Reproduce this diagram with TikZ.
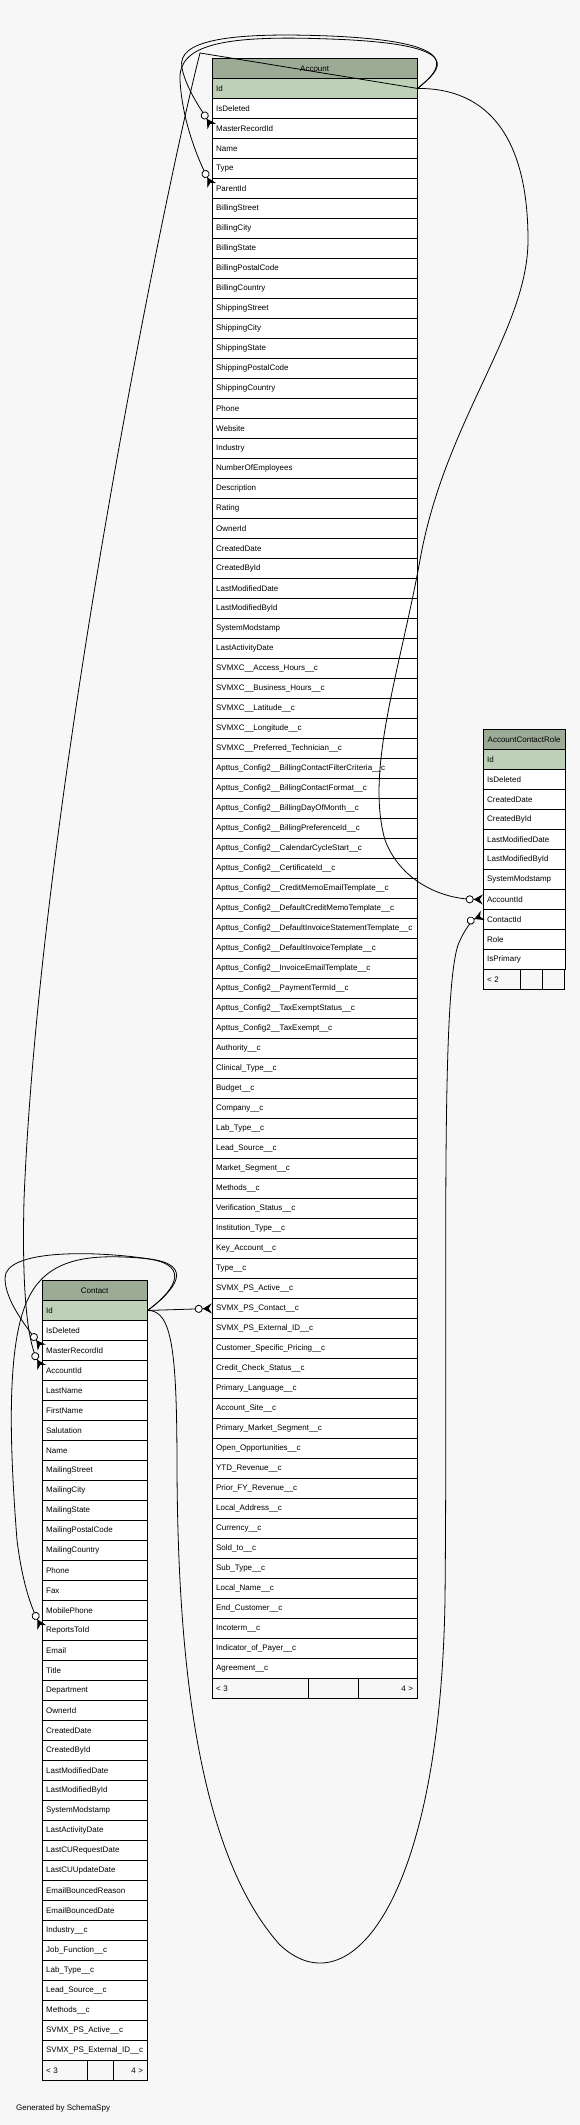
\documentclass[tikz,border=0pt]{standalone}
\usepackage{fontspec}
\setmainfont{Liberation Sans}
\usetikzlibrary{arrows.meta}
\definecolor{bgcol}{HTML}{F7F7F7}
\definecolor{headcol}{HTML}{9BAB96}
\definecolor{pkcol}{HTML}{BED1B8}
\tikzset{
  tblhead/.style={draw, fill=headcol, line width=0.9pt, minimum height=20pt, inner sep=0pt, anchor=north west, font=\fontsize{8}{9}\selectfont},
  colrow/.style={draw, fill=white, line width=0.9pt, minimum height=20pt, inner xsep=4pt, inner ysep=0pt, anchor=north west, align=left, font=\fontsize{8}{9}\selectfont},
  pkrow/.style={colrow, fill=pkcol},
  footcell/.style={draw, fill=bgcol, line width=0.9pt, minimum height=20pt, inner xsep=4pt, inner ysep=0pt, anchor=north west, font=\fontsize{8}{9}\selectfont},
  fk/.style={line width=0.8pt, -{Circle[open,fill=white,length=8pt,width=8pt] Stealth[reversed,length=9pt,width=10pt,inset=3pt]}}
}
\begin{document}
\begin{tikzpicture}[x=1pt,y=-1pt]
\fill[bgcol] (0,0) rectangle (580,2125);
\useasboundingbox (0,0) rectangle (580,2125);
% Account
\node[tblhead, minimum width=205pt] (acc) at (211.7,58) {Account};
\node[pkrow, text width=197pt] (acc-id) at (211.7,78) {Id};
\foreach \c [count=\i] in {IsDeleted, MasterRecordId, Name, Type, ParentId, BillingStreet, BillingCity, BillingState, BillingPostalCode, BillingCountry, ShippingStreet, ShippingCity, ShippingState, ShippingPostalCode, ShippingCountry, Phone, Website, Industry, NumberOfEmployees, Description, Rating, OwnerId, CreatedDate, CreatedById, LastModifiedDate, LastModifiedById, SystemModstamp, LastActivityDate, SVMXC\_\_Access\_Hours\_\_c, SVMXC\_\_Business\_Hours\_\_c, SVMXC\_\_Latitude\_\_c, SVMXC\_\_Longitude\_\_c, SVMXC\_\_Preferred\_Technician\_\_c, Apttus\_Config2\_\_BillingContactFilterCriteria\_\_c, Apttus\_Config2\_\_BillingContactFormat\_\_c, Apttus\_Config2\_\_BillingDayOfMonth\_\_c, Apttus\_Config2\_\_BillingPreferenceId\_\_c, Apttus\_Config2\_\_CalendarCycleStart\_\_c, Apttus\_Config2\_\_CertificateId\_\_c, Apttus\_Config2\_\_CreditMemoEmailTemplate\_\_c, Apttus\_Config2\_\_DefaultCreditMemoTemplate\_\_c, Apttus\_Config2\_\_DefaultInvoiceStatementTemplate\_\_c, Apttus\_Config2\_\_DefaultInvoiceTemplate\_\_c, Apttus\_Config2\_\_InvoiceEmailTemplate\_\_c, Apttus\_Config2\_\_PaymentTermId\_\_c, Apttus\_Config2\_\_TaxExemptStatus\_\_c, Apttus\_Config2\_\_TaxExempt\_\_c, Authority\_\_c, Clinical\_Type\_\_c, Budget\_\_c, Company\_\_c, Lab\_Type\_\_c, Lead\_Source\_\_c, Market\_Segment\_\_c, Methods\_\_c, Verification\_Status\_\_c, Institution\_Type\_\_c, Key\_Account\_\_c, Type\_\_c, SVMX\_PS\_Active\_\_c, SVMX\_PS\_Contact\_\_c, SVMX\_PS\_External\_ID\_\_c, Customer\_Specific\_Pricing\_\_c, Credit\_Check\_Status\_\_c, Primary\_Language\_\_c, Account\_Site\_\_c, Primary\_Market\_Segment\_\_c, Open\_Opportunities\_\_c, YTD\_Revenue\_\_c, Prior\_FY\_Revenue\_\_c, Local\_Address\_\_c, Currency\_\_c, Sold\_to\_\_c, Sub\_Type\_\_c, Local\_Name\_\_c, End\_Customer\_\_c, Incoterm\_\_c, Indicator\_of\_Payer\_\_c, Agreement\_\_c}
  \node[colrow, text width=197pt] (acc-\i) at (211.7,{78+20*\i}) {\c};
\node[footcell, text width=88pt] (acc-f1) at (211.7,1678) {< 3};
\node[footcell, minimum width=50.6pt] (acc-f2) at (307.7,1678) {};
\node[footcell, text width=50.4pt, align=right] (acc-f3) at (358.3,1678) {4 >};
% AccountContactRole
\node[tblhead, minimum width=82pt] (acr) at (482.7,729) {AccountContactRole};
\node[pkrow, text width=74pt] (acr-id) at (482.7,749) {Id};
\foreach \c [count=\i] in {IsDeleted, CreatedDate, CreatedById, LastModifiedDate, LastModifiedById, SystemModstamp, AccountId, ContactId, Role, IsPrimary}
  \node[colrow, text width=74pt] (acr-\i) at (482.7,{749+20*\i}) {\c};
\node[footcell, text width=29.3pt] (acr-f1) at (482.7,969) {< 2};
\node[footcell, minimum width=21.7pt] (acr-f2) at (520,969) {};
\node[footcell, minimum width=22.6pt] (acr-f3) at (541.7,969) {};
% Contact
\node[tblhead, minimum width=105pt] (con) at (41.7,1280) {Contact};
\node[pkrow, text width=97pt] (con-id) at (41.7,1300) {Id};
\foreach \c [count=\i] in {IsDeleted, MasterRecordId, AccountId, LastName, FirstName, Salutation, Name, MailingStreet, MailingCity, MailingState, MailingPostalCode, MailingCountry, Phone, Fax, MobilePhone, ReportsToId, Email, Title, Department, OwnerId, CreatedDate, CreatedById, LastModifiedDate, LastModifiedById, SystemModstamp, LastActivityDate, LastCURequestDate, LastCUUpdateDate, EmailBouncedReason, EmailBouncedDate, Industry\_\_c, Job\_Function\_\_c, Lab\_Type\_\_c, Lead\_Source\_\_c, Methods\_\_c, SVMX\_PS\_Active\_\_c, SVMX\_PS\_External\_ID\_\_c}
  \node[colrow, text width=97pt] (con-\i) at (41.7,{1300+20*\i}) {\c};
\node[footcell, text width=37pt] (con-f1) at (41.7,2060) {< 3};
\node[footcell, minimum width=26.6pt] (con-f2) at (86.7,2060) {};
\node[footcell, text width=25.4pt, align=right] (con-f3) at (113.3,2060) {4 >};
\node[anchor=west, inner sep=0pt, font=\fontsize{8}{9}\selectfont] (gen) at (16,2108) {Generated by SchemaSpy};
% relations
\draw[fk] (acc-id.east) .. controls (440,70) and (470,42) .. (330,36) .. controls (230,32) and (176,40) .. (182,68) .. controls (186,88) and (200,108) .. ([yshift=2pt]acc-2.west);
\draw[fk] (acc-id.east) .. controls (440,70) and (472,44) .. (330,39) .. controls (225,35) and (178,44) .. (180,80) .. controls (182,120) and (198,160) .. ([yshift=3pt]acc-5.west);
\draw[fk] (acc-id.east) -- (200,53) .. controls (165,190) and (40,800) .. (24,1200) .. controls (22,1280) and (26,1340) .. ([yshift=3pt]con-3.west);
\draw[fk] (acc-id.east) .. controls (490,88) and (528,140) .. (528,240) .. controls (528,330) and (445,420) .. (420,560) .. controls (400,670) and (365,770) .. (385,840) .. controls (400,880) and (440,899) .. (acr-7.west);
\draw[fk] (con-id.east) -- (acc-61.west);
\draw[fk] (con-id.east) .. controls (175,1290) and (195,1265) .. (150,1259) .. controls (90,1250) and (5,1250) .. (5,1278) .. controls (5,1300) and (25,1325) .. ([yshift=3pt]con-2.west);
\draw[fk] (con-id.east) .. controls (178,1288) and (192,1262) .. (140,1258) .. controls (90,1254) and (50,1258) .. (30,1295) .. controls (5,1340) and (10,1450) .. (17,1540) .. controls (22,1580) and (30,1605) .. ([yshift=3pt]con-16.west);
\draw[fk] (con-id.east) .. controls (172,1310) and (177,1350) .. (177,1470) .. controls (178,1650) and (195,1850) .. (280,1945) .. controls (350,2010) and (440,1900) .. (445,1600) .. controls (448,1300) and (440,1000) .. (458,945) .. controls (464,930) and (472,920) .. ([yshift=4pt]acr-8.west);
\end{tikzpicture}
\end{document}
